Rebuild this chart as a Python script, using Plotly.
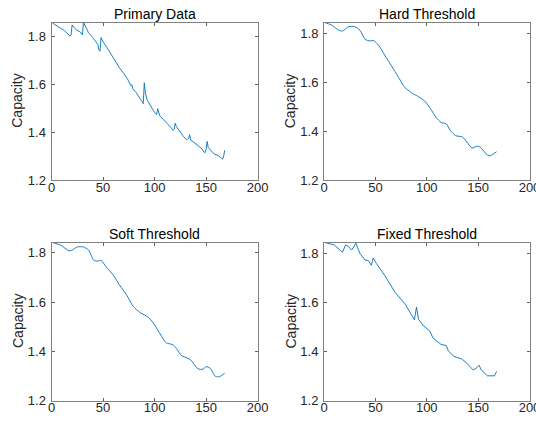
import plotly.graph_objects as go

# ---- data ----
primary_cycle = [1, 4, 8, 12, 16, 18, 19, 20, 22, 24, 28, 30, 31, 33, 36, 40, 43, 45, 46, 47,
                 48, 50, 54, 58, 62, 66, 70, 74, 77, 78, 79, 82, 86, 88, 89, 90, 91, 93, 96, 100,
                 102, 103, 105, 108, 112, 116, 118, 119, 120, 121, 124, 128, 131, 133, 134, 135,
                 138, 142, 146, 148, 149, 150, 151, 152, 155, 158, 162, 165, 166, 167, 168]
primary_cap = [1.856, 1.846, 1.836, 1.826, 1.812, 1.801, 1.806, 1.848, 1.836, 1.828, 1.818, 1.806,
               1.858, 1.838, 1.815, 1.795, 1.778, 1.766, 1.744, 1.738, 1.795, 1.778, 1.752, 1.722,
               1.693, 1.668, 1.646, 1.620, 1.594, 1.598, 1.580, 1.566, 1.540, 1.524, 1.519, 1.606,
               1.565, 1.532, 1.508, 1.482, 1.474, 1.498, 1.468, 1.456, 1.437, 1.418, 1.408, 1.412,
               1.437, 1.424, 1.404, 1.382, 1.368, 1.374, 1.389, 1.366, 1.358, 1.342, 1.330, 1.316,
               1.315, 1.330, 1.361, 1.336, 1.322, 1.308, 1.302, 1.292, 1.287, 1.300, 1.324]

hard_cycle = [1, 8, 14, 18, 24, 30, 35, 40, 45, 48, 53, 59, 66, 72, 78, 85, 91, 98, 104, 109,
              114, 119, 123, 128, 135, 139, 144, 149, 152, 159, 162, 168]
hard_cap = [1.846, 1.834, 1.815, 1.811, 1.829, 1.829, 1.814, 1.777, 1.770, 1.773, 1.753, 1.713,
            1.666, 1.625, 1.583, 1.558, 1.544, 1.524, 1.490, 1.457, 1.436, 1.430, 1.403, 1.382,
            1.376, 1.356, 1.331, 1.339, 1.335, 1.302, 1.300, 1.316]

soft_cycle = [1, 9, 17, 20, 25, 31, 36, 41, 45, 48, 53, 60, 66, 73, 79, 86, 94, 100, 106, 111,
              118, 121, 126, 132, 135, 142, 147, 150, 154, 159, 163, 168]
soft_cap = [1.842, 1.831, 1.808, 1.811, 1.824, 1.824, 1.811, 1.770, 1.766, 1.770, 1.743, 1.709,
            1.669, 1.628, 1.584, 1.557, 1.538, 1.507, 1.466, 1.435, 1.426, 1.412, 1.383, 1.372,
            1.365, 1.329, 1.327, 1.338, 1.331, 1.298, 1.297, 1.311]

fixed_cycle = [1, 10, 18, 21, 24, 27, 31, 35, 40, 43, 46, 48, 51, 59, 69, 79, 88, 90, 92, 97,
               103, 106, 114, 119, 121, 126, 134, 139, 145, 148, 151, 153, 159, 166, 168]
fixed_cap = [1.846, 1.836, 1.806, 1.836, 1.829, 1.815, 1.843, 1.801, 1.774, 1.773, 1.753, 1.783,
             1.760, 1.712, 1.643, 1.594, 1.530, 1.582, 1.532, 1.505, 1.484, 1.456, 1.429, 1.425,
             1.404, 1.381, 1.370, 1.353, 1.325, 1.332, 1.344, 1.325, 1.301, 1.301, 1.319]

titles = ["Primary Data", "Hard Threshold", "Soft Threshold", "Fixed Threshold"]
y_label = "Capacity"
x_ticks = [0, 50, 100, 150, 200]
y_ticks = [1.2, 1.4, 1.6, 1.8]
y_min = 1.2

# ---- layout ----
W, H = 536, 425
LINE = "#0072BD"
FONT = "Liberation Sans, Arial, sans-serif"

xdom = {"L": [51.5 / W, 257.7 / W], "R": [324 / W, 529.5 / W]}
ydom = {"T": [1 - 180 / H, 1 - 22.5 / H], "B": [1 - 400.5 / H, 1 - 242.5 / H]}

panels = [
    ("L", "T", primary_cycle, primary_cap, "linear"),
    ("R", "T", hard_cycle, hard_cap, "spline"),
    ("L", "B", soft_cycle, soft_cap, "spline"),
    ("R", "B", fixed_cycle, fixed_cap, "linear"),
]

fig = go.Figure()
annotations = []
for i, (cx, cy, xs, ys, shape) in enumerate(panels):
    n = "" if i == 0 else str(i + 1)
    fig.add_trace(go.Scatter(x=xs, y=ys, mode="lines",
                             line=dict(color=LINE, width=0.9, shape=shape, smoothing=0.6),
                             xaxis="x" + n, yaxis="y" + n, showlegend=False,
                             hoverinfo="skip"))
    axcommon = dict(showline=True, linecolor="#808080", linewidth=1, mirror="ticks",
                    ticks="inside", ticklen=3, tickcolor="#606060", showgrid=False,
                    zeroline=False, automargin=False, ticklabeloverflow="allow",
                    tickfont=dict(family=FONT, size=13, color="#262626"))
    fig.layout["xaxis" + n] = dict(domain=xdom[cx], range=[0, 200], tickvals=x_ticks,
                                   anchor="y" + n, ticklabelstandoff=-5, **axcommon)
    fig.layout["yaxis" + n] = dict(domain=ydom[cy], range=[y_min, max(ys)], tickvals=y_ticks,
                                   tickformat=".1f", anchor="x" + n, ticklabelstandoff=2,
                                   **axcommon)
    xc = (xdom[cx][0] + xdom[cx][1]) / 2
    annotations.append(dict(text=titles[i], x=xc, y=ydom[cy][1], xref="paper", yref="paper",
                            xanchor="center", yanchor="bottom", showarrow=False, yshift=-1,
                            font=dict(family=FONT, size=14, color="#000000")))
    annotations.append(dict(text=y_label, x=xdom[cx][0] - 34 / W,
                            y=(ydom[cy][0] + ydom[cy][1]) / 2, xref="paper", yref="paper",
                            xanchor="center", yanchor="middle", textangle=-90, showarrow=False,
                            font=dict(family=FONT, size=14, color="#262626")))

fig.update_layout(width=W, height=H, margin=dict(l=0, r=0, t=0, b=0, autoexpand=False),
                  paper_bgcolor="white", plot_bgcolor="white",
                  annotations=annotations)

fig.write_html("out.html", config={"displayModeBar": False},
               post_script="document.body.style.margin='0';document.body.style.overflow='hidden';")
